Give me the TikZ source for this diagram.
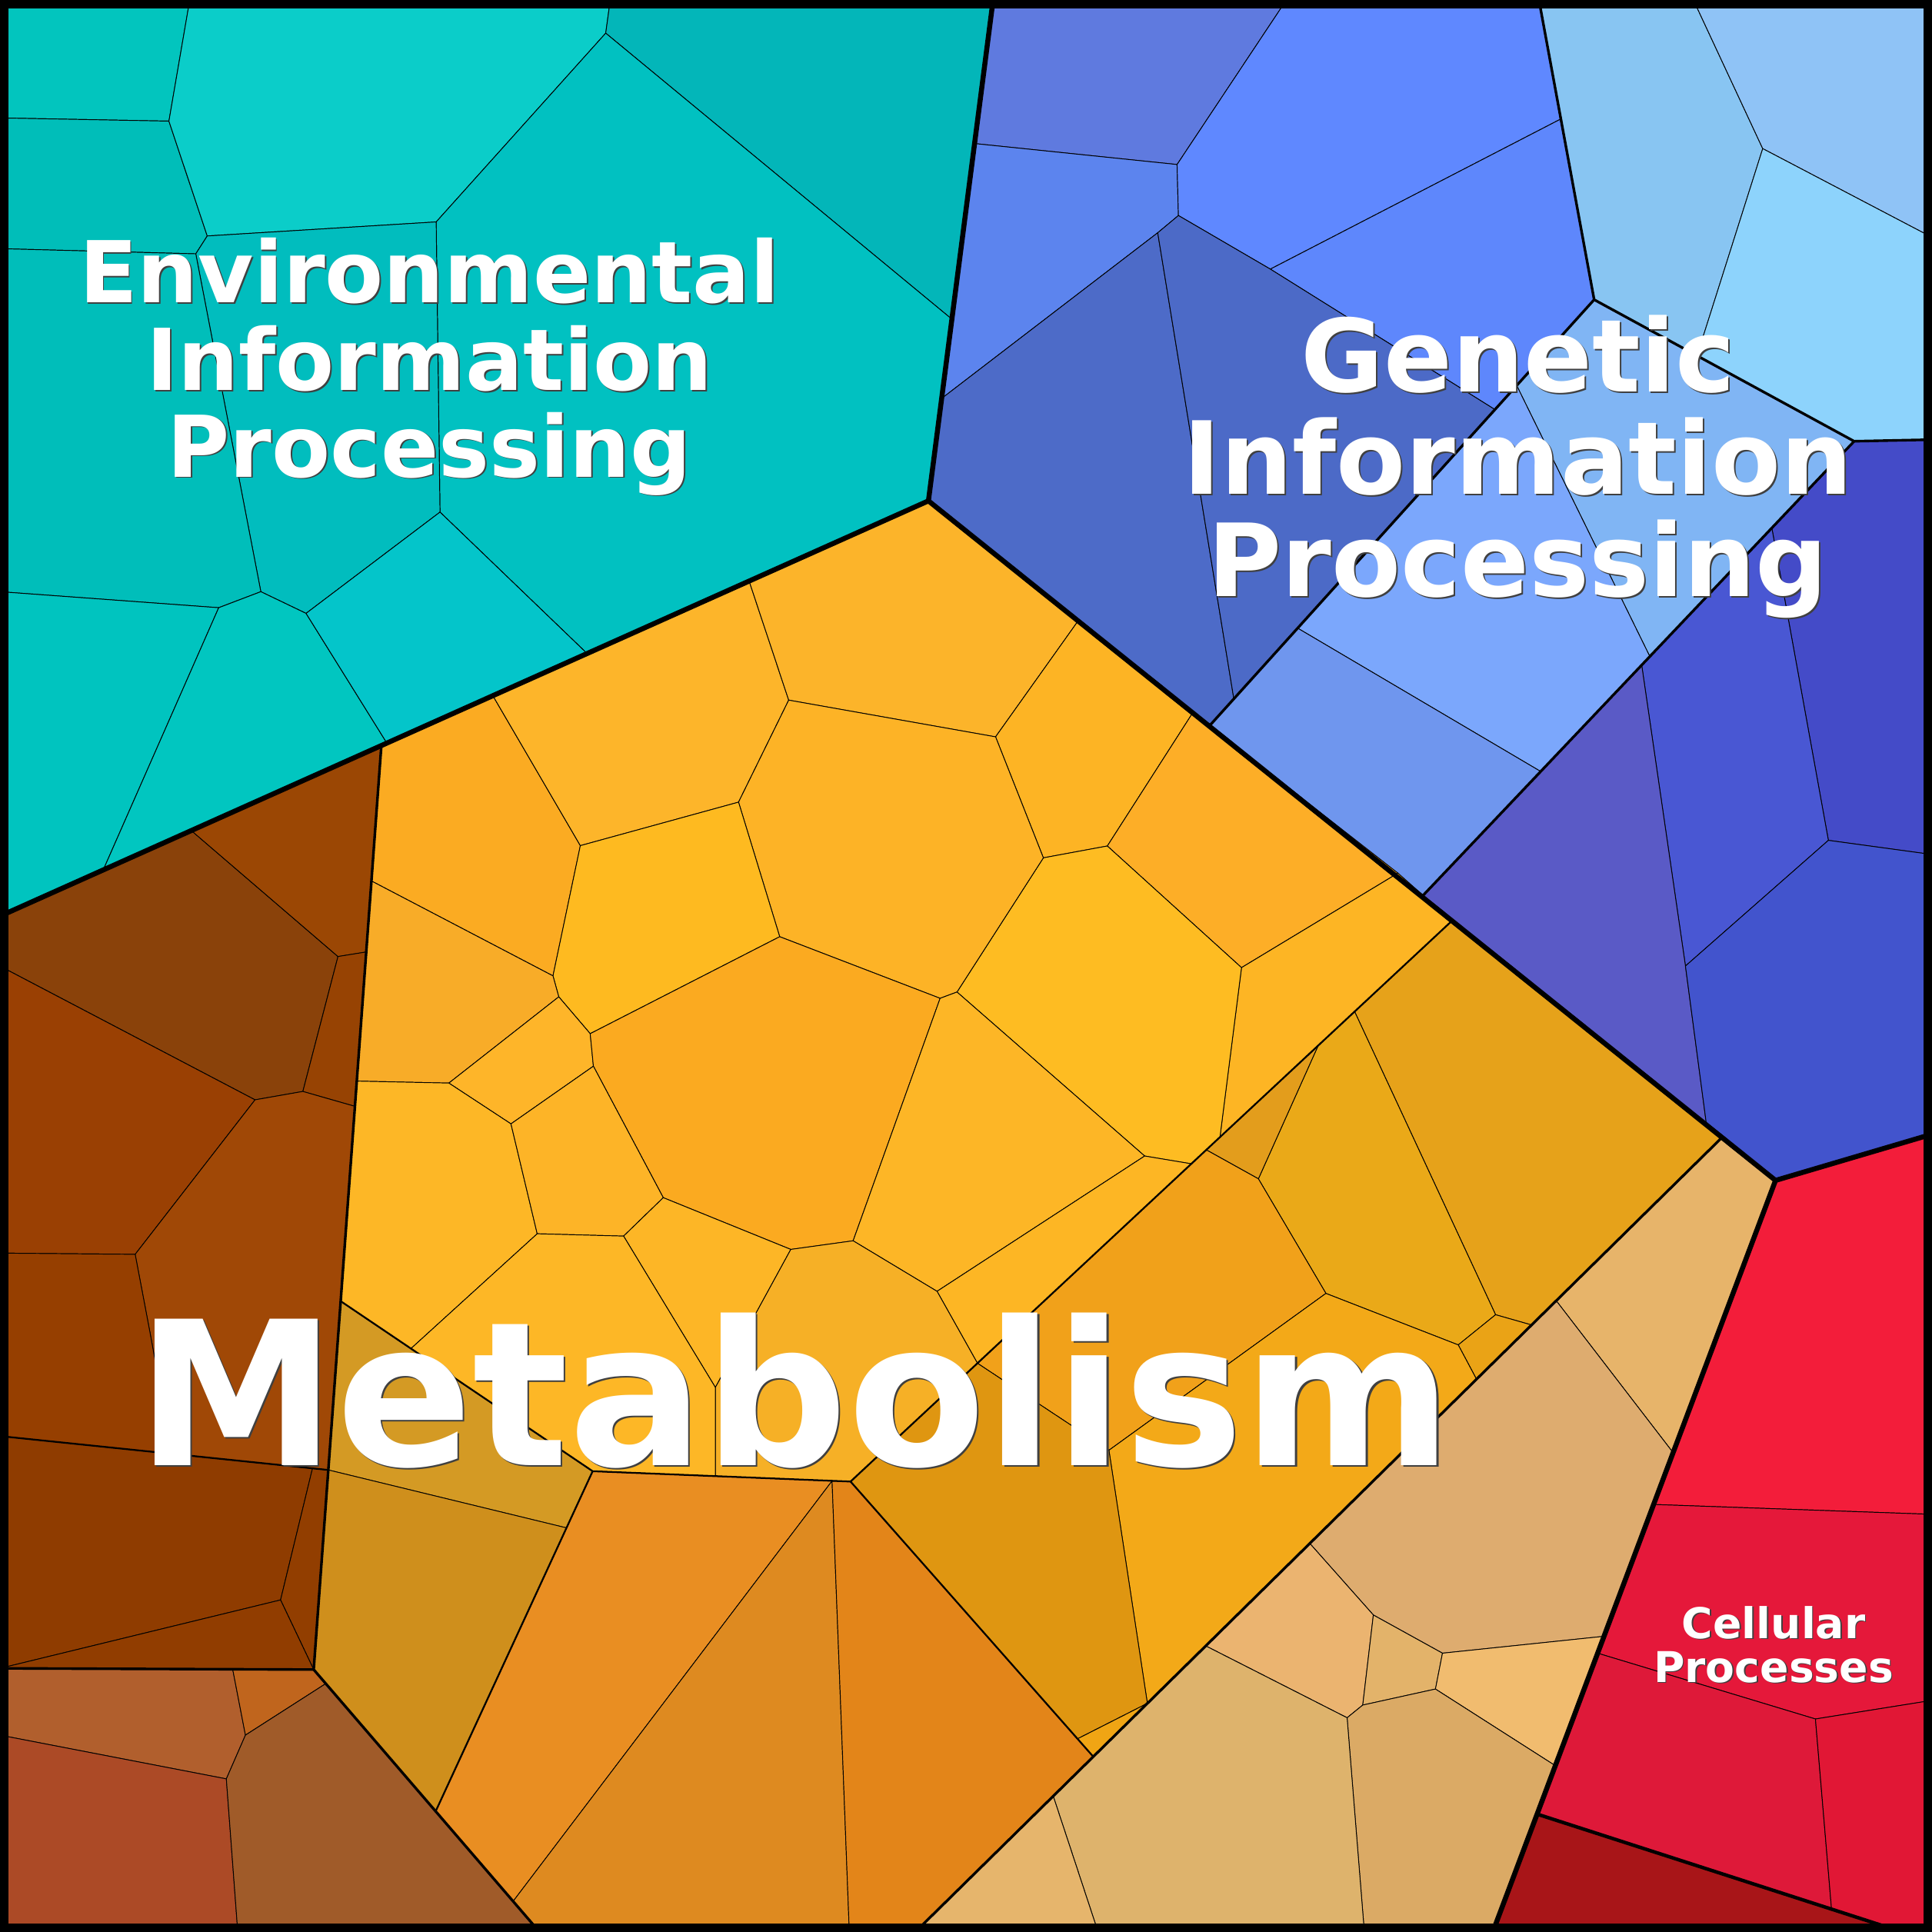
\documentclass[tikz,border=0pt]{standalone}
\usepackage{fontspec}
\newfontfamily\keggfont{DejaVu Sans}
\usepackage{xcolor}
% environmental
\definecolor{envA}{HTML}{02C5BE}
\definecolor{envB}{HTML}{00BEB9}
\definecolor{envC}{HTML}{0BCDC9}
\definecolor{envD}{HTML}{03B6B9}
\definecolor{envE}{HTML}{01C1C1}
\definecolor{envF}{HTML}{01BDBE}
\definecolor{envG}{HTML}{00BEBA}
\definecolor{envH}{HTML}{00C4BF}
\definecolor{envI}{HTML}{01C6C0}
\definecolor{envJ}{HTML}{04C5CA}
% genetic
\definecolor{genA}{HTML}{5F7ADF}
\definecolor{genB}{HTML}{5C84EE}
\definecolor{genC}{HTML}{5F88FF}
\definecolor{genD}{HTML}{5E87FC}
\definecolor{genE}{HTML}{4D6BC8}
\definecolor{genF}{HTML}{4C6AC7}
\definecolor{genG}{HTML}{88C5F2}
\definecolor{genH}{HTML}{8FC3F6}
\definecolor{genI}{HTML}{8DD3FC}
\definecolor{genJ}{HTML}{80B5F4}
\definecolor{genK}{HTML}{7BA7FC}
\definecolor{genL}{HTML}{6F96EE}
\definecolor{genM}{HTML}{444BC8}
\definecolor{genN}{HTML}{4957D3}
\definecolor{genO}{HTML}{5A5AC6}
\definecolor{genP}{HTML}{4254CD}
% cellular
\definecolor{celA}{HTML}{F31D3A}
\definecolor{celB}{HTML}{E5183A}
\definecolor{celC}{HTML}{DE1939}
\definecolor{celD}{HTML}{E11735}
\definecolor{celE}{HTML}{A81518}
% metabolism
\definecolor{tanA}{HTML}{E7B46A}
\definecolor{tanB}{HTML}{DEAC6F}
\definecolor{tanC}{HTML}{EBB470}
\definecolor{tanD}{HTML}{E3B36A}
\definecolor{tanE}{HTML}{F1BC6F}
\definecolor{tanF}{HTML}{DBAA65}
\definecolor{tanG}{HTML}{DEB36C}
\definecolor{tanH}{HTML}{E6B56C}
\definecolor{gldA}{HTML}{E6A21A}
\definecolor{gldB}{HTML}{EAA918}
\definecolor{gldC}{HTML}{E39D1C}
\definecolor{gldD}{HTML}{EAA316}
\definecolor{gldE}{HTML}{F1A11A}
\definecolor{gldF}{HTML}{F3A918}
\definecolor{gldG}{HTML}{DF9611}
\definecolor{gldH}{HTML}{F0A514}
\definecolor{orgA}{HTML}{E98E22}
\definecolor{orgB}{HTML}{DE8A20}
\definecolor{orgC}{HTML}{E38519}
\definecolor{ochA}{HTML}{D49A24}
\definecolor{ochB}{HTML}{CF8F1C}
\definecolor{yelA}{HTML}{FBAB22}
\definecolor{yelB}{HTML}{FDB52A}
\definecolor{yelC}{HTML}{FCB42A}
\definecolor{yelD}{HTML}{FDB424}
\definecolor{yelE}{HTML}{FDAE27}
\definecolor{yelF}{HTML}{FDB524}
\definecolor{yelG}{HTML}{FEBC22}
\definecolor{yelH}{HTML}{FDB326}
\definecolor{yelI}{HTML}{FEBA20}
\definecolor{yelJ}{HTML}{F8AC28}
\definecolor{yelK}{HTML}{FEB529}
\definecolor{yelL}{HTML}{FBAA20}
\definecolor{yelM}{HTML}{FDB726}
\definecolor{yelN}{HTML}{FDB427}
\definecolor{yelO}{HTML}{FDB626}
\definecolor{yelP}{HTML}{FDB624}
\definecolor{yelQ}{HTML}{FDB626}
\definecolor{yelR}{HTML}{F6B026}
\definecolor{yelS}{HTML}{FDB726}
\definecolor{brnA}{HTML}{8A420A}
\definecolor{brnB}{HTML}{9B4704}
\definecolor{brnC}{HTML}{974303}
\definecolor{brnD}{HTML}{9A4003}
\definecolor{brnE}{HTML}{A04806}
\definecolor{brnF}{HTML}{963F00}
\definecolor{brnG}{HTML}{8F3C00}
\definecolor{brnH}{HTML}{923E00}
\definecolor{brnI}{HTML}{913D00}
\definecolor{rstA}{HTML}{B15F2D}
\definecolor{rstB}{HTML}{C0651D}
\definecolor{rstC}{HTML}{AC4A26}
\definecolor{rstD}{HTML}{A05B29}
\tikzset{
  cell/.style={draw=black, line width=0.17pt, line join=round},
  subline/.style={draw=black, line width=0.4pt, line join=round},
  grpline/.style={draw=black, line width=0.6pt, line join=round},
  regline/.style={draw=black, line width=1.15pt, line join=round},
  lbl/.style={text=white, inner sep=0pt, anchor=base},
  lblshadow/.style={text=black!75, inner sep=0pt, anchor=base},
  envtext/.style={font=\keggfont\bfseries\fontsize{19.7}{19.7}\selectfont},
  gentext/.style={font=\keggfont\bfseries\fontsize{23.3}{23.3}\selectfont},
  metatext/.style={font=\keggfont\bfseries\fontsize{46.4}{46.4}\selectfont},
  celltext/.style={font=\keggfont\bfseries\fontsize{9.8}{9.8}\selectfont}
}
\begin{document}
\begin{tikzpicture}[x=0.1mm,y=-0.1mm]
\useasboundingbox (0,0) rectangle (1568,1568);
% region corners
\coordinate (e0) at (806,0);
\coordinate (m0) at (753.5,406.5);
\coordinate (w0) at (0,743.5);
\coordinate (c0) at (1441,958);
\coordinate (c1) at (1568,920.5);
\coordinate (c2) at (1211.5,1568);
% environmental points
\coordinate (t1) at (154,0);
\coordinate (t2) at (137.1,98.3);
\coordinate (t3) at (0,95.7);
\coordinate (t4) at (168.2,191.5);
\coordinate (t5) at (158.9,206);
\coordinate (t6) at (0,201.8);
\coordinate (t7) at (354,180.1);
\coordinate (t8) at (491.6,26.9);
\coordinate (t9) at (495.3,0);
\coordinate (t10) at (772.5,259);
\coordinate (t11) at (357.1,415.6);
\coordinate (t12) at (211.7,480.2);
\coordinate (t13) at (177.5,493.2);
\coordinate (t14) at (0,480.2);
\coordinate (t15) at (83.8,706);
\coordinate (t16) at (248.4,497.8);
\coordinate (t17) at (314,603.1);
\coordinate (t18) at (476.5,530.4);
% genetic points
\coordinate (g0) at (1044,0);
\coordinate (g1) at (791,116.5);
\coordinate (g2) at (955.3,133.5);
\coordinate (g3) at (956.4,174.9);
\coordinate (g4) at (939.6,188.9);
\coordinate (g5) at (764.2,323.4);
\coordinate (g6) at (1031,218.4);
\coordinate (g7) at (1213,332.2);
\coordinate (g8) at (1001.3,566.7);
\coordinate (g9) at (981.4,589.3);
\coordinate (g10) at (1154,727.7);
\coordinate (gt) at (1249,0);
\coordinate (gq) at (1266.3,96.8);
\coordinate (gp) at (1293.8,243.2);
\coordinate (gr) at (1504.8,358.1);
\coordinate (gs) at (1568,356.8);
\coordinate (l1) at (1374.4,0);
\coordinate (l2) at (1430.6,120.6);
\coordinate (l3) at (1568,192.6);
\coordinate (l4) at (1377.3,288.7);
\coordinate (b1) at (1231,313);
\coordinate (b2) at (1339,532.8);
\coordinate (b3) at (1053,509.7);
\coordinate (b4) at (1250.4,626.1);
\coordinate (d1) at (1438,428.5);
\coordinate (d2) at (1483.9,682);
\coordinate (d3) at (1568,693.5);
\coordinate (d4) at (1367.9,784);
\coordinate (d5) at (1332.4,539.9);
\coordinate (d6) at (1385,913);
% cellular points
\coordinate (r1) at (1342.1,1221);
\coordinate (r1e) at (1568,1229);
\coordinate (r2) at (1296.6,1341.7);
\coordinate (r3) at (1473.4,1395.1);
\coordinate (r3e) at (1568,1380);
\coordinate (r4) at (1486.5,1550);
\coordinate (r5) at (1247.5,1472.3);
\coordinate (r5e) at (1544,1568);
% metabolism group lines
\coordinate (ld) at (1397.6,923.1);
\coordinate (lb) at (742.8,1568);
\coordinate (db) at (1178.4,747.3);
\coordinate (dl) at (690.3,1202.4);
\coordinate (lm) at (887.3,1425.7);
\coordinate (bt) at (309.5,605.1);
\coordinate (bb0) at (254.6,1355);
\coordinate (bl) at (437.9,1568);
\coordinate (w1) at (0,1354);
% tan points
\coordinate (n1) at (1357.9,1179);
\coordinate (n2) at (1263,1055.6);
\coordinate (n3) at (1063,1252.6);
\coordinate (n4) at (1114.6,1310.7);
\coordinate (n5) at (1170.7,1341.7);
\coordinate (n6) at (1301.8,1328);
\coordinate (n7) at (1165,1370.8);
\coordinate (n8) at (1262.3,1433);
\coordinate (n9) at (1106,1383.8);
\coordinate (n10) at (1093.3,1394.1);
\coordinate (n11) at (978.6,1335.8);
\coordinate (n12) at (1107.3,1568);
\coordinate (n13) at (854.8,1457.7);
\coordinate (n14) at (891.2,1568);
% gold band points
\coordinate (a1) at (1099.4,821);
\coordinate (a2) at (1069.8,848.6);
\coordinate (a3) at (979,933.2);
\coordinate (bb) at (1021.3,956.7);
\coordinate (bc) at (1076.1,1049.7);
\coordinate (bd) at (1183.5,1091.5);
\coordinate (be) at (1213.8,1067);
\coordinate (bf) at (1243,1075.3);
\coordinate (bg) at (1198.3,1119.3);
\coordinate (bi) at (900,1177);
\coordinate (bj) at (931.2,1382.4);
\coordinate (bk) at (874.5,1411.2);
% orange and ochre points
\coordinate (og1) at (675.3,1201.9);
\coordinate (og2) at (416.5,1543);
\coordinate (og3) at (689.3,1568);
\coordinate (oc1) at (276.5,1056);
\coordinate (oc2) at (481,1194);
\coordinate (oc3) at (353.6,1470);
\coordinate (oc4) at (459.8,1240);
\coordinate (oc5) at (266.5,1193);
% yellow points
\coordinate (ye1) at (400,564.6);
\coordinate (ye2) at (608,471.6);
\coordinate (ye3) at (875,503.9);
\coordinate (ye4) at (968,578.5);
\coordinate (ye5) at (1134.6,708.6);
\coordinate (v1) at (471,686.3);
\coordinate (v2) at (599.4,651);
\coordinate (v3) at (640.1,568.2);
\coordinate (v4) at (808,598);
\coordinate (v5) at (846.8,696.2);
\coordinate (v6) at (898.7,686.6);
\coordinate (v7) at (1007.6,785.3);
\coordinate (v8) at (990.1,922.9);
\coordinate (v9) at (776.7,805.1);
\coordinate (v10) at (763,810.2);
\coordinate (v11) at (632.8,760.2);
\coordinate (v12) at (448.8,792);
\coordinate (v13) at (453.5,809);
\coordinate (v14) at (479,838.9);
\coordinate (v15) at (481.6,865.3);
\coordinate (v16) at (364.3,879);
\coordinate (v17) at (289.6,877.4);
\coordinate (v18) at (301.5,715);
\coordinate (v19) at (414.7,912.1);
\coordinate (v20) at (436,1001.3);
\coordinate (v21) at (506.1,1003.2);
\coordinate (v22) at (538.3,972);
\coordinate (v23) at (641.8,1014);
\coordinate (v24) at (692.4,1007);
\coordinate (v25) at (760.5,1048);
\coordinate (v26) at (929,938.2);
\coordinate (v27) at (966.9,944.5);
\coordinate (v28) at (793.3,1106.4);
\coordinate (v29) at (333.5,1094.5);
\coordinate (v30) at (580.6,1126);
\coordinate (v31) at (580.6,1198);
% brown points
\coordinate (k1) at (155.3,674.1);
\coordinate (k2) at (274.3,776.3);
\coordinate (k3) at (297.2,772.6);
\coordinate (k4) at (245.8,885.8);
\coordinate (k5) at (288.1,897.9);
\coordinate (k6) at (207,892.6);
\coordinate (k7) at (0,784.1);
\coordinate (k8) at (109.7,1018);
\coordinate (k9) at (0,1017);
\coordinate (k10) at (121.6,1080.7);
\coordinate (k11) at (140,1181);
\coordinate (k12) at (0,1165.5);
\coordinate (k13) at (253.6,1191.8);
\coordinate (k15) at (227.7,1298.5);
\coordinate (q1) at (188.9,1355);
\coordinate (q2) at (199.2,1408.2);
\coordinate (q3) at (264.4,1366.4);
\coordinate (q4) at (183.7,1443.7);
\coordinate (q5) at (0,1408.2);
\coordinate (q6) at (193,1568);

% Environmental Information Processing
\filldraw[cell,fill=envA] (0,0) -- (t1) -- (t2) -- (t3) -- cycle;
\filldraw[cell,fill=envB] (t3) -- (t2) -- (t4) -- (t5) -- (t6) -- cycle;
\filldraw[cell,fill=envC] (t1) -- (t9) -- (t8) -- (t7) -- (t4) -- (t2) -- cycle;
\filldraw[cell,fill=envD] (t9) -- (e0) -- (t10) -- (t8) -- cycle;
\filldraw[cell,fill=envE] (t8) -- (t10) -- (m0) -- (t18) -- (t11) -- (t7) -- cycle;
\filldraw[cell,fill=envF] (t4) -- (t7) -- (t11) -- (t16) -- (t12) -- (t5) -- cycle;
\filldraw[cell,fill=envG] (t6) -- (t5) -- (t12) -- (t13) -- (t14) -- cycle;
\filldraw[cell,fill=envH] (t14) -- (t13) -- (t15) -- (w0) -- cycle;
\filldraw[cell,fill=envI] (t13) -- (t12) -- (t16) -- (t17) -- (t15) -- cycle;
\filldraw[cell,fill=envJ] (t16) -- (t11) -- (t18) -- (t17) -- cycle;

% Genetic Information Processing
\filldraw[cell,fill=genA] (e0) -- (g0) -- (g2) -- (g1) -- cycle;
\filldraw[cell,fill=genB] (g1) -- (g2) -- (g3) -- (g4) -- (g5) -- cycle;
\filldraw[cell,fill=genC] (g0) -- (gt) -- (gq) -- (g6) -- (g3) -- (g2) -- cycle;
\filldraw[cell,fill=genD] (g6) -- (gq) -- (gp) -- (g7) -- cycle;
\filldraw[cell,fill=genE] (g5) -- (g4) -- (g8) -- (g9) -- (m0) -- cycle;
\filldraw[cell,fill=genF] (g4) -- (g3) -- (g6) -- (g7) -- (g8) -- cycle;
\filldraw[cell,fill=genG] (gt) -- (l1) -- (l2) -- (l4) -- (gp) -- cycle;
\filldraw[cell,fill=genH] (l1) -- (1568,0) -- (l3) -- (l2) -- cycle;
\filldraw[cell,fill=genI] (l2) -- (l3) -- (gs) -- (gr) -- (l4) -- cycle;
\filldraw[cell,fill=genJ] (gp) -- (gr) -- (b2) -- (b1) -- cycle;
\filldraw[cell,fill=genK] (b1) -- (b2) -- (b4) -- (b3) -- cycle;
\filldraw[cell,fill=genL] (b3) -- (b4) -- (g10) -- (g9) -- cycle;
\filldraw[cell,fill=genM] (gr) -- (gs) -- (d3) -- (d2) -- (d1) -- cycle;
\filldraw[cell,fill=genN] (d1) -- (d2) -- (d4) -- (d5) -- cycle;
\filldraw[cell,fill=genO] (d5) -- (d4) -- (d6) -- (g10) -- cycle;
\filldraw[cell,fill=genP] (d2) -- (d3) -- (c1) -- (c0) -- (d6) -- (d4) -- cycle;

% Cellular Processes
\filldraw[cell,fill=celA] (c0) -- (c1) -- (r1e) -- (r1) -- cycle;
\filldraw[cell,fill=celB] (r1) -- (r1e) -- (r3e) -- (r3) -- (r2) -- cycle;
\filldraw[cell,fill=celC] (r2) -- (r3) -- (r4) -- (r5) -- cycle;
\filldraw[cell,fill=celD] (r3) -- (r3e) -- (1568,1568) -- (r5e) -- (r4) -- cycle;
\filldraw[cell,fill=celE] (r5) -- (r5e) -- (c2) -- cycle;

% Metabolism: tan group
\filldraw[cell,fill=tanA] (ld) -- (c0) -- (n1) -- (n2) -- cycle;
\filldraw[cell,fill=tanB] (n2) -- (n1) -- (n6) -- (n5) -- (n4) -- (n3) -- cycle;
\filldraw[cell,fill=tanC] (n3) -- (n4) -- (n9) -- (n10) -- (n11) -- cycle;
\filldraw[cell,fill=tanD] (n4) -- (n5) -- (n7) -- (n9) -- cycle;
\filldraw[cell,fill=tanE] (n5) -- (n6) -- (n8) -- (n7) -- cycle;
\filldraw[cell,fill=tanF] (n9) -- (n7) -- (n8) -- (c2) -- (n12) -- (n10) -- cycle;
\filldraw[cell,fill=tanG] (n11) -- (n10) -- (n12) -- (n14) -- (n13) -- cycle;
\filldraw[cell,fill=tanH] (n13) -- (n14) -- (lb) -- cycle;
% gold band
\filldraw[cell,fill=gldA] (db) -- (ld) -- (bf) -- (be) -- (a1) -- cycle;
\filldraw[cell,fill=gldB] (a1) -- (be) -- (bd) -- (bc) -- (bb) -- (a2) -- cycle;
\filldraw[cell,fill=gldC] (a2) -- (bb) -- (a3) -- cycle;
\filldraw[cell,fill=gldD] (be) -- (bf) -- (bg) -- (bd) -- cycle;
\filldraw[cell,fill=gldE] (a3) -- (bb) -- (bc) -- (bi) -- (v28) -- cycle;
\filldraw[cell,fill=gldF] (bc) -- (bd) -- (bg) -- (bj) -- (bi) -- cycle;
\filldraw[cell,fill=gldG] (v28) -- (bi) -- (bj) -- (bk) -- (dl) -- cycle;
\filldraw[cell,fill=gldH] (bk) -- (bj) -- (lm) -- cycle;
% orange and ochre
\filldraw[cell,fill=orgA] (oc2) -- (og1) -- (og2) -- (oc3) -- (oc4) -- cycle;
\filldraw[cell,fill=orgB] (og1) -- (og3) -- (bl) -- (og2) -- cycle;
\filldraw[cell,fill=orgC] (og1) -- (dl) -- (bk) -- (lm) -- (lb) -- (og3) -- cycle;
\filldraw[cell,fill=ochA] (oc1) -- (oc2) -- (oc4) -- (oc5) -- cycle;
\filldraw[cell,fill=ochB] (oc5) -- (oc4) -- (oc3) -- (bb0) -- cycle;
% yellow group
\filldraw[cell,fill=yelA] (bt) -- (ye1) -- (v1) -- (v12) -- (v18) -- cycle;
\filldraw[cell,fill=yelB] (ye1) -- (ye2) -- (v3) -- (v2) -- (v1) -- cycle;
\filldraw[cell,fill=yelC] (ye2) -- (m0) -- (ye3) -- (v4) -- (v3) -- cycle;
\filldraw[cell,fill=yelD] (ye3) -- (ye4) -- (v6) -- (v5) -- (v4) -- cycle;
\filldraw[cell,fill=yelE] (ye4) -- (ye5) -- (v7) -- (v6) -- cycle;
\filldraw[cell,fill=yelF] (ye5) -- (db) -- (v8) -- (v7) -- cycle;
\filldraw[cell,fill=yelG] (v6) -- (v7) -- (v8) -- (v27) -- (v26) -- (v9) -- (v5) -- cycle;
\filldraw[cell,fill=yelH] (v3) -- (v4) -- (v5) -- (v9) -- (v10) -- (v11) -- (v2) -- cycle;
\filldraw[cell,fill=yelI] (v1) -- (v2) -- (v11) -- (v14) -- (v13) -- (v12) -- cycle;
\filldraw[cell,fill=yelJ] (v18) -- (v12) -- (v13) -- (v16) -- (v17) -- cycle;
\filldraw[cell,fill=yelK] (v13) -- (v14) -- (v15) -- (v19) -- (v16) -- cycle;
\filldraw[cell,fill=yelL] (v14) -- (v11) -- (v10) -- (v24) -- (v23) -- (v22) -- (v15) -- cycle;
\filldraw[cell,fill=yelM] (v17) -- (v16) -- (v19) -- (v20) -- (v29) -- (oc1) -- cycle;
\filldraw[cell,fill=yelN] (v15) -- (v22) -- (v21) -- (v20) -- (v19) -- cycle;
\filldraw[cell,fill=yelO] (v10) -- (v9) -- (v26) -- (v25) -- (v24) -- cycle;
\filldraw[cell,fill=yelP] (v25) -- (v26) -- (v27) -- (v28) -- cycle;
\filldraw[cell,fill=yelQ] (v21) -- (v22) -- (v23) -- (v30) -- cycle;
\filldraw[cell,fill=yelR] (v23) -- (v24) -- (v25) -- (v28) -- (dl) -- (og1) -- (v31) -- (v30) -- cycle;
\filldraw[cell,fill=yelS] (v29) -- (v20) -- (v21) -- (v30) -- (v31) -- (oc2) -- cycle;
% brown group
\filldraw[cell,fill=brnA] (w0) -- (k1) -- (k2) -- (k4) -- (k6) -- (k7) -- cycle;
\filldraw[cell,fill=brnB] (k1) -- (bt) -- (k3) -- (k2) -- cycle;
\filldraw[cell,fill=brnC] (k2) -- (k3) -- (k5) -- (k4) -- cycle;
\filldraw[cell,fill=brnD] (k7) -- (k6) -- (k8) -- (k9) -- cycle;
\filldraw[cell,fill=brnE] (k6) -- (k4) -- (k5) -- (oc5) -- (k13) -- (k11) -- (k10) -- (k8) -- cycle;
\filldraw[cell,fill=brnF] (k9) -- (k8) -- (k10) -- (k11) -- (k12) -- cycle;
\filldraw[cell,fill=brnG] (k12) -- (k13) -- (k15) -- (w1) -- cycle;
\filldraw[cell,fill=brnH] (k13) -- (oc5) -- (bb0) -- (k15) -- cycle;
\filldraw[cell,fill=brnI] (w1) -- (k15) -- (bb0) -- cycle;
% bottom left group
\filldraw[cell,fill=rstA] (w1) -- (q1) -- (q2) -- (q4) -- (q5) -- cycle;
\filldraw[cell,fill=rstB] (q1) -- (bb0) -- (q3) -- (q2) -- cycle;
\filldraw[cell,fill=rstC] (q5) -- (q4) -- (q6) -- (0,1568) -- cycle;
\filldraw[cell,fill=rstD] (q2) -- (q3) -- (bl) -- (q6) -- (q4) -- cycle;

% group borders
\draw[grpline] (bt) -- (bb0) -- (bl);
\draw[grpline] (w1) -- (bb0);
\draw[grpline] (ld) -- (lb);
\draw[grpline] (gt) -- (gp) -- (gr) -- (gs);
\draw[grpline] (gp) -- (g9);
\draw[grpline] (gr) -- (g10);
\draw[grpline, line width=0.8pt] (r5) -- (r5e);
\draw[subline] (db) -- (dl) -- (lm);
\draw[subline] (oc1) -- (oc2) -- (dl);
\draw[subline] (oc2) -- (oc3);
\draw[subline] (k12) -- (oc5);
% region borders
\draw[regline] (w0) -- (m0) -- (e0);
\draw[regline] (m0) -- (c0) -- (c1);
\draw[regline] (c0) -- (c2);
\draw[line width=2pt] (3.5,3.5) rectangle (1564.5,1564.5); % frame

% labels
\foreach \word/\yy [count=\i] in {Environmental/245.8, Information/316.7, Processing/387} {
  \node[lblshadow, envtext] (envsh\i) at (349.7,\yy+1.2) {\word};
  \node[lbl, envtext] (env\i) at (348.5,\yy) {\word};
}
\foreach \word/\yy [count=\i] in {Genetic/318.3, Information/401, Processing/484} {
  \node[lblshadow, gentext] (gensh\i) at (1233.2,\yy+1.2) {\word};
  \node[lbl, gentext] (gen\i) at (1232,\yy) {\word};
}
\node[lblshadow, metatext] (metash) at (646.3,1190.8) {Metabolism};
\node[lbl, metatext] (meta) at (644.8,1189.3) {Metabolism};
\foreach \word/\yy [count=\i] in {Cellular/1329.8, Processes/1365.3} {
  \node[lblshadow, celltext] (celsh\i) at (1440.5,\yy+0.8) {\word};
  \node[lbl, celltext] (cel\i) at (1439.5,\yy) {\word};
}
\end{tikzpicture}
\end{document}
